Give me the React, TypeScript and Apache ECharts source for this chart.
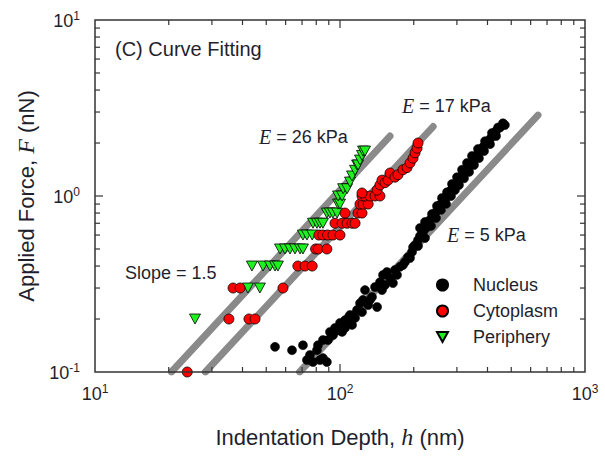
import React, { useEffect, useRef } from "react";
import * as echarts from "echarts";

const SANS = "'Liberation Sans', Arial, Helvetica, sans-serif";
const SERIF = "'Liberation Serif', 'Times New Roman', serif";
const TEXT = "#1f1f2e";

// Indentation depth h (nm), applied force F (nN)
const nucleus: [number, number][] = [
  [54.3, 0.139], [63.7, 0.133], [70.6, 0.142], [73.3, 0.117], [75.4, 0.125], [77.6, 0.114],
  [80.5, 0.133], [81.3, 0.142], [82.9, 0.117], [85.2, 0.12], [88.4, 0.114], [85.2, 0.152],
  [89.3, 0.152], [91.0, 0.169], [93.6, 0.162], [95.4, 0.178], [98.2, 0.173], [100, 0.19],
  [102, 0.169], [104.8, 0.197], [104.8, 0.178], [107.9, 0.203], [109.9, 0.211], [112, 0.185],
  [115.2, 0.203], [117.4, 0.225], [120.7, 0.246], [123, 0.219], [124.2, 0.257], [126.5, 0.292],
  [130.3, 0.24], [132.6, 0.257], [135.1, 0.267], [139, 0.304], [141.7, 0.234], [145.6, 0.324],
  [148.4, 0.292], [149.8, 0.356], [152.6, 0.312], [155.5, 0.37], [160, 0.342], [164.5, 0.32],
  [167.7, 0.38], [170.9, 0.356], [175.7, 0.396], [180.7, 0.405], [184.2, 0.422], [189.5, 0.45],
  [193.1, 0.444], [196.8, 0.481], [198.7, 0.512], [202.4, 0.527], [208.2, 0.52], [208.2, 0.562],
  [212.1, 0.593], [212.1, 0.658], [218.1, 0.625], [222.3, 0.577], [222.3, 0.712], [224.4, 0.658],
  [228.6, 0.712], [232.9, 0.731], [235.2, 0.676], [237.4, 0.79], [239.6, 0.78], [246.5, 0.811],
  [246.5, 0.75], [248.8, 0.878], [251.2, 0.866], [255.9, 0.889], [258.3, 0.833], [260.7, 0.974],
  [263.3, 0.925], [270.9, 0.974], [270.9, 0.901], [273.3, 1.05], [278.6, 1.04], [283.9, 1.08],
  [283.9, 1.0], [286.5, 1.17], [289.2, 1.11], [294.6, 1.08], [297.4, 1.17], [300.3, 1.28],
  [303.0, 1.22], [305.9, 1.155], [309, 1.26], [314.8, 1.41], [317.8, 1.33], [320.8, 1.26],
  [323.8, 1.39], [329.9, 1.44], [329.9, 1.54], [336.4, 1.37], [339.5, 1.5], [345.7, 1.56],
  [345.7, 1.69], [352.3, 1.62], [352.3, 1.5], [362.5, 1.71], [365.8, 1.85], [369.1, 1.64],
  [372.6, 1.8], [383.6, 1.9], [387.3, 1.8], [390.8, 2.05], [398.1, 2.03], [409.6, 2.11],
  [409.6, 1.97], [417.1, 2.28], [421.1, 2.22], [433.5, 2.34], [433.5, 2.19], [441.6, 2.45],
  [449.9, 2.45], [462.5, 2.59], [471, 2.53],
];

const cytoplasm: [number, number][] = [
  [23.8, 0.1], [35.2, 0.2], [42.5, 0.2], [45.0, 0.2], [36.6, 0.3], [39.1, 0.3], [58.5, 0.3],
  [67.3, 0.4], [72.0, 0.4], [77.0, 0.4], [79.5, 0.5], [81.5, 0.5], [88.4, 0.5], [82, 0.6],
  [85, 0.6], [89, 0.6], [93.6, 0.6], [100, 0.6], [95.4, 0.7], [102, 0.7], [106.9, 0.7],
  [112, 0.7], [115.2, 0.7], [104.8, 0.8], [118.5, 0.8], [123, 0.8], [120.7, 0.9], [124.2, 0.9],
  [130.3, 0.9], [123, 1.0], [126.5, 1.0], [132.6, 1.0], [139, 1.0], [145.6, 1.0], [141.7, 1.08],
  [123, 1.04], [145.6, 1.155], [148.4, 1.23], [152.6, 1.19], [157, 1.23], [160, 1.35],
  [167.7, 1.28], [172.5, 1.32], [180.7, 1.41], [187.7, 1.45], [193.1, 1.54], [198.7, 1.64],
  [202.4, 1.76], [206.3, 1.87], [208.2, 2.0],
];

const periphery: [number, number][] = [
  [25.6, 0.2], [42.1, 0.3], [47.1, 0.3], [43.7, 0.4], [48.5, 0.4], [51.8, 0.4], [54.3, 0.4],
  [55.8, 0.4], [56.9, 0.5], [59.6, 0.5], [62.5, 0.5], [65.5, 0.5], [68.7, 0.5], [70.6, 0.5],
  [70.6, 0.6], [73.3, 0.6], [77.0, 0.6], [77.6, 0.7], [80.5, 0.7], [82.9, 0.7], [85.2, 0.7],
  [88.4, 0.8], [91.0, 0.8], [93.6, 0.8], [97.3, 0.8], [98.2, 0.9], [100, 0.9], [98.2, 1.0],
  [102, 1.0], [103, 1.1], [106.9, 1.1], [109.9, 1.2], [112, 1.3], [115.2, 1.4], [117.4, 1.5],
  [118.5, 1.5], [120.7, 1.6], [123, 1.7], [124.2, 1.8], [126.5, 1.8],
];

// Slope 1.5 fits (end points of each fitted line)
const fitE26: [number, number][] = [[20.5, 0.1], [160, 2.19]];
const fitE17: [number, number][] = [[28.2, 0.1], [240, 2.48]];
const fitE5: [number, number][] = [[68.4, 0.1], [643, 2.88]];

// Axis ticks
const xMinorTicks = [20, 30, 40, 50, 60, 70, 80, 90, 200, 300, 400, 500, 600, 700, 800, 900];
const xMajorTicks = [100];
const yMinorTicks = [0.2, 0.3, 0.4, 0.5, 0.6, 0.7, 0.8, 0.9, 2, 3, 4, 5, 6, 7, 8, 9];
const yMajorTicks = [1];

const X_MIN = 10, X_MAX = 1000, Y_MIN = 0.1, Y_MAX = 10;

const tickColor = "#333";

function tickSeries(axis: "x" | "y") {
  const minor = axis === "x" ? xMinorTicks : yMinorTicks;
  const major = axis === "x" ? xMajorTicks : yMajorTicks;
  const data = [
    ...minor.map((v) => (axis === "x" ? [v, 1, 0] : [100, v, 0])),
    ...major.map((v) => (axis === "x" ? [v, 1, 1] : [100, v, 1])),
  ];
  return {
    type: "custom",
    silent: true,
    z: 5,
    data,
    encode: { x: 0, y: 1 },
    renderItem: (params: any, api: any) => {
      const cs = params.coordSys;
      const len = api.value(2) ? 8 : 5;
      const st = { stroke: tickColor, lineWidth: 1.2 };
      if (axis === "x") {
        const px = api.coord([api.value(0), 1])[0];
        return {
          type: "group",
          children: [
            { type: "line", shape: { x1: px, y1: cs.y + cs.height, x2: px, y2: cs.y + cs.height - len }, style: st },
            { type: "line", shape: { x1: px, y1: cs.y, x2: px, y2: cs.y + len }, style: st },
          ],
        };
      }
      const py = api.coord([100, api.value(1)])[1];
      return {
        type: "group",
        children: [
          { type: "line", shape: { x1: cs.x, y1: py, x2: cs.x + len, y2: py }, style: st },
          { type: "line", shape: { x1: cs.x + cs.width, y1: py, x2: cs.x + cs.width - len, y2: py }, style: st },
        ],
      };
    },
  };
}

const powRich = {
  b: { fontSize: 18, fontFamily: SANS, color: TEXT, lineHeight: 20, verticalAlign: "bottom" },
  s: { fontSize: 12, fontFamily: SANS, color: TEXT, lineHeight: 12, verticalAlign: "top" },
};
const powFormatter = (v: number) => `{b|10}{s|${Math.round(Math.log10(v))}}`;

function fitLine(name: string, data: [number, number][]) {
  return {
    name,
    type: "line",
    data,
    symbol: "none",
    silent: true,
    z: 1,
    lineStyle: { color: "#8a8a8a", width: 7, cap: "round", opacity: 1 },
  };
}

function label(x: number, y: number, text: string, rich: any = {}, size = 18) {
  return {
    type: "text",
    x,
    y,
    z: 10,
    style: {
      text,
      fontSize: size,
      fontFamily: SANS,
      fill: TEXT,
      verticalAlign: "middle",
      align: "left",
      rich,
    },
  };
}

const eRich = {
  e: { fontFamily: SERIF, fontStyle: "italic", fontSize: 20, color: TEXT },
  t: { fontFamily: SANS, fontSize: 18, color: TEXT },
};

const TRI_DOWN = "path://M0,0L10,0L5,9Z";

export default function App() {
  const ref = useRef<HTMLDivElement>(null);
  useEffect(() => {
    const chart = echarts.init(ref.current!, null, { renderer: "svg" });
    chart.setOption({
      animation: false,
      backgroundColor: "#ffffff",
      grid: {
        left: 95,
        top: 20,
        width: 490,
        height: 352,
        show: true,
        borderColor: "#333",
        borderWidth: 1.5,
        backgroundColor: "transparent",
        z: 6,
      },
      xAxis: {
        type: "log",
        logBase: 10,
        min: X_MIN,
        max: X_MAX,
        axisLine: { show: false },
        axisTick: { show: false },
        splitLine: { show: false },
        axisLabel: {
          margin: 11,
          fontSize: 18,
          fontFamily: SANS,
          color: TEXT,
          formatter: powFormatter,
          rich: powRich,
          showMinLabel: true,
          showMaxLabel: true,
        },
        name: "{n|Indentation Depth, }{i|h}{n| (nm)}",
        nameLocation: "middle",
        nameGap: 53,
        nameTextStyle: {
          rich: {
            n: { fontFamily: SANS, fontSize: 22, color: TEXT, lineHeight: 24 },
            i: { fontFamily: SERIF, fontStyle: "italic", fontSize: 24, color: TEXT, lineHeight: 24 },
          },
        },
      },
      yAxis: {
        type: "log",
        logBase: 10,
        min: Y_MIN,
        max: Y_MAX,
        axisLine: { show: false },
        axisTick: { show: false },
        splitLine: { show: false },
        axisLabel: {
          margin: 15,
          fontSize: 18,
          fontFamily: SANS,
          color: TEXT,
          formatter: powFormatter,
          rich: powRich,
          showMinLabel: true,
          showMaxLabel: true,
        },
        name: "{n|Applied Force, }{i|F}{n| (nN)}",
        nameLocation: "middle",
        nameGap: 56,
        nameTextStyle: {
          rich: {
            n: { fontFamily: SANS, fontSize: 22, color: TEXT, lineHeight: 24 },
            i: { fontFamily: SERIF, fontStyle: "italic", fontSize: 24, color: TEXT, lineHeight: 24 },
          },
        },
      },
      legend: {
        data: [
          { name: "Nucleus", icon: "circle" },
          { name: "Cytoplasm", icon: "circle" },
          { name: "Periphery", icon: TRI_DOWN },
        ],
        orient: "vertical",
        left: 431,
        top: 271,
        itemWidth: 11,
        itemHeight: 11,
        itemGap: 8,
        formatter: (n: string) => `{a|${n}}`,
        textStyle: {
          rich: { a: { fontFamily: SANS, fontSize: 18, color: TEXT, lineHeight: 18, padding: [0, 0, 0, 20] } },
        },
        selectedMode: false,
      },
      graphic: [
        label(115, 49, "(C) Curve Fitting", {}, 20),
        label(259, 137, "{e|E}{t| = 26 kPa}", eRich),
        label(402, 106, "{e|E}{t| = 17 kPa}", eRich),
        label(447, 235, "{e|E}{t| = 5 kPa}", eRich),
        label(125, 273, "Slope = 1.5", {}),
      ],
      series: [
        fitLine("E26", fitE26),
        fitLine("E17", fitE17),
        fitLine("E5", fitE5),
        {
          name: "Nucleus",
          type: "scatter",
          data: nucleus,
          symbol: "circle",
          symbolSize: 9,
          z: 2,
          itemStyle: { color: "#000000", borderColor: "#000000", borderWidth: 0.5, opacity: 1 },
        },
        {
          name: "Periphery",
          type: "scatter",
          data: periphery,
          symbol: "triangle",
          symbolRotate: 180,
          symbolSize: [11, 10],
          z: 3,
          itemStyle: { color: "#1ff01f", borderColor: "#000000", borderWidth: 0.8, opacity: 1 },
        },
        {
          name: "Cytoplasm",
          type: "scatter",
          data: cytoplasm,
          symbol: "circle",
          symbolSize: 10,
          z: 4,
          itemStyle: { color: "#ff0000", borderColor: "#000000", borderWidth: 0.8, opacity: 1 },
        },
        tickSeries("x"),
        tickSeries("y"),
      ],
    });
    return () => chart.dispose();
  }, []);
  return <div ref={ref} style={{ position: "absolute", left: 0, top: 0, width: 605, height: 458 }} />;
}
